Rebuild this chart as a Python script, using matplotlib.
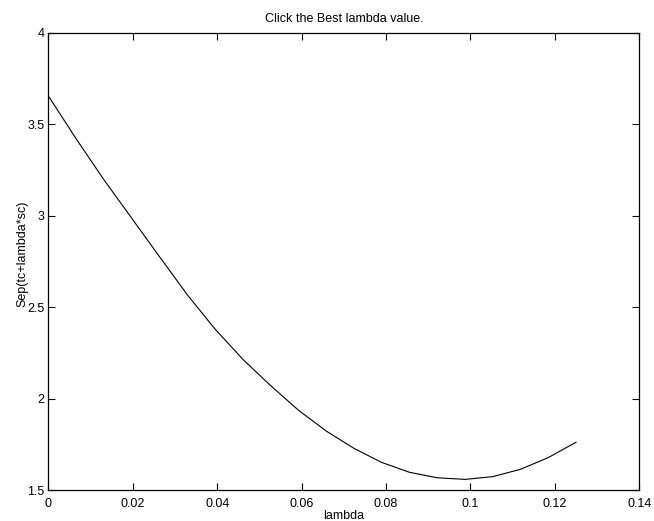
import matplotlib
matplotlib.use("Agg")
import matplotlib.pyplot as plt
import numpy as np

# lambda sweep and the separation measured at each step
lam = np.linspace(0, 0.125, 20)
sep = [3.654, 3.420, 3.196, 2.986, 2.776, 2.568, 2.380, 2.215, 2.071, 1.937,
       1.823, 1.728, 1.651, 1.597, 1.567, 1.558, 1.573, 1.613, 1.677, 1.761]

xticks = [0, 0.02, 0.04, 0.06, 0.08, 0.1, 0.12, 0.14]
xticklabels = ["0", "0.02", "0.04", "0.06", "0.08", "0.1", "0.12", "0.14"]
yticks = [1.5, 2, 2.5, 3, 3.5, 4]
yticklabels = ["1.5", "2", "2.5", "3", "3.5", "4"]

plt.rcParams['font.family'] = ['Liberation Sans', 'DejaVu Sans']
plt.rcParams['font.size'] = 9

fig = plt.figure(figsize=(6.54, 5.21), dpi=100)
ax = fig.add_axes([0.074, 0.0595, 0.9035, 0.8777])

ax.plot(lam, sep, color='black', linewidth=0.8)

ax.set_xlim(0, 0.14)
ax.set_ylim(1.5, 4)
ax.set_xticks(xticks)
ax.set_xticklabels(xticklabels)
ax.set_yticks(yticks)
ax.set_yticklabels(yticklabels)
ax.tick_params(direction='in', length=5, width=0.8, top=True, right=True,
               labelsize=9, pad=3)
ax.tick_params(axis='x', pad=6)
for s in ax.spines.values():
    s.set_linewidth(0.9)

ax.set_title("Click the Best lambda value.", fontsize=9, pad=8)
ax.set_xlabel("lambda", fontsize=9, labelpad=0)
ax.set_ylabel("Sep(tc+lambda*sc)", fontsize=9)
ax.yaxis.set_label_coords(-0.034, 0.516)

fig.savefig("out.png", dpi=100)
